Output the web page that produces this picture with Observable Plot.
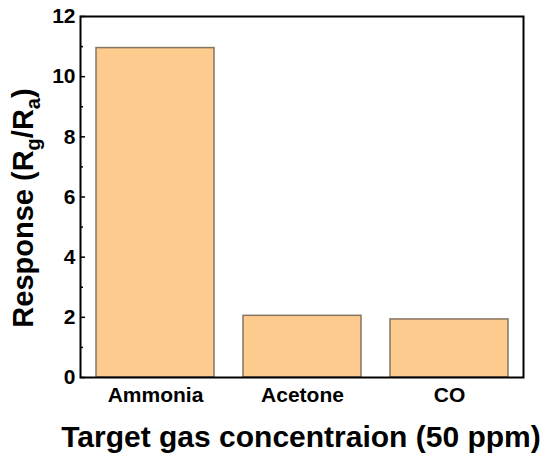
<!DOCTYPE html>
<html>
<head>
<meta charset="utf-8">
<script src="https://cdn.jsdelivr.net/npm/d3@7"></script>
<script src="https://cdn.jsdelivr.net/npm/@observablehq/plot@0.6"></script>
<style>
  html, body { margin: 0; padding: 0; background: #fff; }
  svg { font-family: "Liberation Sans", Arial, sans-serif; }
</style>
</head>
<body>
<div id="chart"></div>
<script>
const gases = ["Ammonia", "Acetone", "CO"];
const responses = [10.95, 2.05, 1.93];
const majorTicks = [0, 2, 4, 6, 8, 10, 12];
const minorTicks = [1, 3, 5, 7, 9, 11];
const xTitle = "Target gas concentraion (50 ppm)";

const data = gases.map((g, i) => ({gas: g, value: responses[i]}));

const chart = Plot.plot({
  width: 550,
  height: 464,
  marginLeft: 80,
  marginRight: 27,
  marginTop: 16,
  marginBottom: 87,
  style: {fontFamily: "'Liberation Sans', Arial, sans-serif", color: "black", background: "white"},
  x: {domain: gases, paddingInner: 0.2, paddingOuter: 0.1, label: null},
  y: {domain: [0, 12], label: null},
  marks: [
    Plot.barY(data, {x: "gas", y: "value", fill: "#FECB8F", stroke: "#857563", strokeWidth: 1.5}),
    Plot.axisY({ticks: minorTicks, tickSize: 3, dx: 3, tickFormat: () => "", label: null, strokeWidth: 1.5}),
    Plot.axisY({ticks: majorTicks, tickSize: 5, dx: 5, tickPadding: 5, label: null, fontSize: 21, fontWeight: "bold", fill: "black", strokeWidth: 1.5}),
    Plot.axisX({tickSize: 0, tickPadding: 10, label: null, fontSize: 21, fontWeight: "bold", fill: "black"}),
    Plot.frame({stroke: "black", strokeWidth: 2})
  ]
});

document.getElementById("chart").appendChild(chart);

const svg = d3.select(chart);
svg.append("text")
  .attr("x", 301)
  .attr("y", 447)
  .attr("text-anchor", "middle")
  .attr("font-size", 30)
  .attr("font-weight", "bold")
  .attr("fill", "black")
  .text(xTitle);

const yt = svg.append("text")
  .attr("transform", "translate(33,208) rotate(-90)")
  .attr("text-anchor", "middle")
  .attr("font-size", 29)
  .attr("font-weight", "bold")
  .attr("fill", "black");
yt.append("tspan").text("Response (R");
yt.append("tspan").attr("font-size", 20).attr("dy", 7).text("g");
yt.append("tspan").attr("dy", -7).text("/R");
yt.append("tspan").attr("font-size", 20).attr("dy", 7).text("a");
yt.append("tspan").attr("dy", -7).text(")");
</script>
</body>
</html>
